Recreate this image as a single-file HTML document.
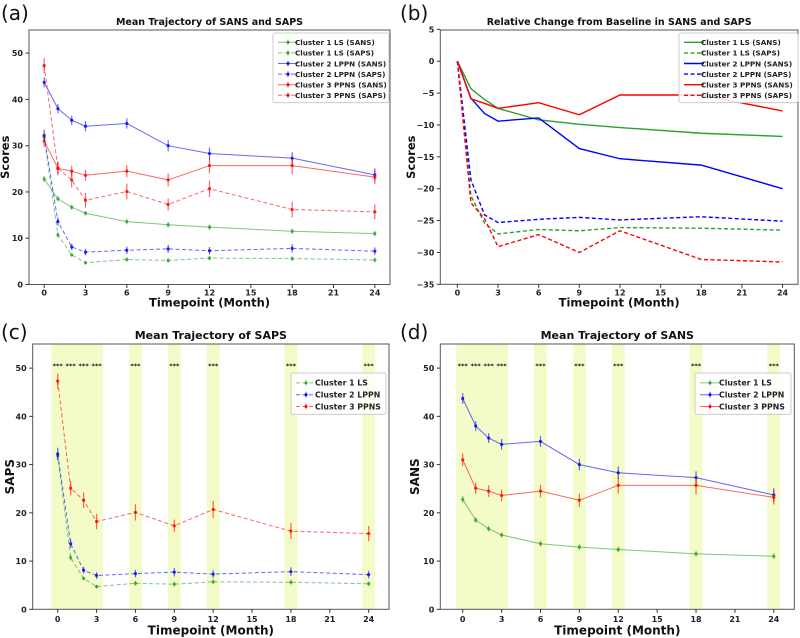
<!DOCTYPE html>
<html><head><meta charset="utf-8"><style>
html,body{margin:0;padding:0;background:#fff;}
svg{display:block;font-family:"DejaVu Sans","Liberation Sans",sans-serif;}
</style></head><body>
<svg id="fig" width="800" height="638" viewBox="0 0 800 638"></svg>
<script>
const months = [0,1,2,3,6,9,12,18,24];
const xTicks = [0,3,6,9,12,15,18,21,24];
const sansC1 = [22.8,18.5,16.7,15.4,13.6,12.9,12.4,11.5,11.0];
const sansC2 = [43.7,38.0,35.5,34.2,34.8,30.0,28.3,27.3,23.7];
const sansC3 = [31.0,25.1,24.5,23.6,24.5,22.6,25.7,25.7,23.2];
const sapsC1 = [31.8,10.7,6.4,4.7,5.4,5.2,5.7,5.6,5.3];
const sapsC2 = [32.2,13.6,8.1,7.0,7.4,7.7,7.3,7.8,7.2];
const sapsC3 = [47.3,25.1,22.6,18.2,20.1,17.3,20.7,16.2,15.7];
const sansErrC1 = [0.7,0.6,0.6,0.5,0.6,0.6,0.6,0.6,0.6];
const sansErrC2 = [1.1,1.0,1.0,1.1,1.1,1.2,1.3,1.3,1.4];
const sansErrC3 = [1.3,1.2,1.2,1.2,1.3,1.4,1.7,1.9,1.5];
const sapsErrC1 = [0.9,0.6,0.4,0.4,0.5,0.5,0.5,0.5,0.5];
const sapsErrC2 = [1.3,0.9,0.7,0.7,0.8,0.9,0.8,0.9,0.8];
const sapsErrC3 = [1.6,1.5,1.6,1.6,1.7,1.3,1.8,1.7,1.6];
const relSansC1 = [0,-4.3,-6.0,-7.4,-9.2,-9.9,-10.4,-11.3,-11.8];
const relSansC2 = [0,-5.8,-8.2,-9.4,-8.9,-13.7,-15.3,-16.3,-20.0];
const relSansC3 = [0,-5.9,-6.6,-7.4,-6.5,-8.4,-5.3,-5.3,-7.8];
const relSapsC1 = [0,-21.1,-25.4,-27.1,-26.4,-26.6,-26.1,-26.2,-26.5];
const relSapsC2 = [0,-18.6,-24.1,-25.3,-24.8,-24.5,-24.9,-24.4,-25.1];
const relSapsC3 = [0,-22.2,-24.7,-29.1,-27.2,-30.0,-26.6,-31.1,-31.5];
const yTicksScore = [0,10,20,30,40,50];
const yTicksRel = [5,0,-5,-10,-15,-20,-25,-30,-35];
const bandCenters = [[-0.5,3.5],[5.5,6.5],[8.5,9.5],[11.5,12.5],[17.5,18.5],[23.5,24.5]];
const starPositions = [0,1,2,3,6,9,12,18,24];

const NS="http://www.w3.org/2000/svg";
const svg=document.getElementById('fig');
function mk(tag,attrs,parent){const e=document.createElementNS(NS,tag);for(const k in attrs)e.setAttribute(k,attrs[k]);(parent||svg).appendChild(e);return e;}
const G='#2ca02c',B='#0000ff',R='#ff0000';

function panel(p){
  const g=mk('g',{});
  
  
  const sx=v=>p.x0+(v-p.xmin)/(p.xmax-p.xmin)*(p.x1-p.x0);
  const sy=v=>p.y1-(v-p.ymin)/(p.ymax-p.ymin)*(p.y1-p.y0);
  if(p.bands){
    p.bands.forEach(b=>{const r=mk('rect',{x:sx(b[0]),y:p.y0,width:sx(b[1])-sx(b[0]),height:p.y1-p.y0,fill:'#f3fbc8'},g);
      });
    starPositions.forEach(m=>{const t=mk('text',{x:sx(m),y:sy(50.0),'font-size':6.5,'font-weight':'bold','text-anchor':'middle',fill:'#111'},g);t.textContent='***';
      });
  }
  const frame=mk('rect',{x:p.x0,y:p.y0,width:p.x1-p.x0,height:p.y1-p.y0,fill:'none',stroke:'#555','stroke-width':1},g);
  
  xTicks.forEach(t=>{mk('line',{x1:sx(t),x2:sx(t),y1:p.y1,y2:p.y1+3.5,stroke:'#333'},g);
    const tx=mk('text',{x:sx(t),y:p.y1+p.xtOff,'font-size':8,'font-weight':'bold','text-anchor':'middle',fill:'#222'},g);tx.textContent=t;
    });
  p.yticks.forEach(t=>{const yy=sy(t);if(yy<p.y0-1)return;mk('line',{x1:p.x0-3.5,x2:p.x0,y1:yy,y2:yy,stroke:'#333'},g);
    const tx=mk('text',{x:p.x0-6,y:yy+3,'font-size':8,'font-weight':'bold','text-anchor':'end',fill:'#222'},g);tx.textContent=t===0?'0':(t<0?'\u2212'+(-t):t);
    });
  const xl=mk('text',{x:(p.x0+p.x1)/2,y:p.y1+p.xlOff,'font-size':p.axFs,'font-weight':'bold','text-anchor':'middle',fill:'#111'},g);xl.textContent='Timepoint (Month)';
  
  const yx=p.ylX,yc=(p.y0+p.y1)/2;
  const yl=mk('text',{x:yx,y:yc,'font-size':p.axFs,'font-weight':'bold','text-anchor':'middle',fill:'#111',transform:`rotate(-90 ${yx} ${yc})`},g);yl.textContent=p.ylabel;
  
  const ti=mk('text',{x:(p.x0+p.x1)/2,y:p.y0-5,'font-size':p.titleSize,'font-weight':'bold','text-anchor':'middle',fill:'#111'},g);ti.textContent=p.title;
  
  const lab=mk('text',{x:p.labX,y:p.labY,'font-size':20,fill:'#111'},g);lab.textContent=p.label;
  
  p.series.forEach(s=>{
    const sg=mk('g',{},g);
    
    
    const pts=months.map((m,i)=>sx(m)+','+sy(s.v[i])).join(' ');
    mk('polyline',{points:pts,fill:'none',stroke:s.c,'stroke-width':s.err?1:1.4,'stroke-opacity':s.err?0.6:1,'stroke-dasharray':s.dash?'4,2.5':'none'},sg);
    if(s.err){months.forEach((m,i)=>{
      mk('line',{x1:sx(m),x2:sx(m),y1:sy(s.v[i]-s.err[i]),y2:sy(s.v[i]+s.err[i]),stroke:s.c,'stroke-opacity':0.6,'stroke-width':1.2},sg);
      mk('circle',{cx:sx(m),cy:sy(s.v[i]),r:1.6,fill:s.c,'fill-opacity':0.8},sg);});}
  });
  const L=p.legend;
  const lg=mk('g',{},g);
  
  
  mk('rect',{x:L.x,y:L.y,width:L.w,height:L.rowH*p.series.length+6,fill:'#fff','fill-opacity':0.85,stroke:'#ccc',rx:2},lg);
  p.series.forEach((s,i)=>{
    const yy=L.y+4+L.rowH*(i+0.5);
    const e=mk('g',{},lg);
    
    
    mk('line',{x1:L.x+5,x2:L.x+25,y1:yy,y2:yy,stroke:s.c,'stroke-width':s.err?1:1.4,'stroke-opacity':s.err?0.6:1,'stroke-dasharray':s.dash?'4,2.5':'none'},e);
    if(s.err){mk('line',{x1:L.x+15,x2:L.x+15,y1:yy-3,y2:yy+3,stroke:s.c,'stroke-opacity':0.6},e);mk('circle',{cx:L.x+15,cy:yy,r:1.5,fill:s.c},e);}
    const t=mk('text',{x:L.x+L.tx,y:yy+2.8,'font-size':L.fs,'font-weight':'bold',fill:'#222'},e);t.textContent=s.n;
  });
}

panel({name:'panel-a-mean-trajectory',x0:29,x1:390,y0:30,y1:284.5,xmin:-1.1,xmax:25.1,ymin:0,ymax:55,yticks:yTicksScore,ylabel:'Scores',
 title:'Mean Trajectory of SANS and SAPS',titleSize:9.5,label:'(a)',labX:1,labY:20,ylX:9,axFs:11.5,xlOff:22,xtOff:11,
 legend:{x:273,y:33,w:116,rowH:10.6,tx:22,fs:7.2},
 series:[{id:'c1-sans',n:'Cluster 1 LS (SANS)',v:sansC1,err:sansErrC1,c:G},{id:'c1-saps',n:'Cluster 1 LS (SAPS)',v:sapsC1,err:sapsErrC1,c:G,dash:1},
 {id:'c2-sans',n:'Cluster 2 LPPN (SANS)',v:sansC2,err:sansErrC2,c:B},{id:'c2-saps',n:'Cluster 2 LPPN (SAPS)',v:sapsC2,err:sapsErrC2,c:B,dash:1},
 {id:'c3-sans',n:'Cluster 3 PPNS (SANS)',v:sansC3,err:sansErrC3,c:R},{id:'c3-saps',n:'Cluster 3 PPNS (SAPS)',v:sapsC3,err:sapsErrC3,c:R,dash:1}]});

panel({name:'panel-b-relative-change',x0:440.3,x1:798,y0:30,y1:284.3,xmin:-1.26,xmax:25.14,ymin:-35,ymax:4.9,yticks:yTicksRel,ylabel:'Scores',
 title:'Relative Change from Baseline in SANS and SAPS',titleSize:9.5,label:'(b)',labX:400,labY:20,ylX:415,axFs:11.5,xlOff:22,xtOff:11,
 legend:{x:679,y:33,w:119,rowH:10.6,tx:22,fs:7.2},
 series:[{id:'c1-sans-rel',n:'Cluster 1 LS (SANS)',v:relSansC1,c:G},{id:'c1-saps-rel',n:'Cluster 1 LS (SAPS)',v:relSapsC1,c:G,dash:1},
 {id:'c2-sans-rel',n:'Cluster 2 LPPN (SANS)',v:relSansC2,c:B},{id:'c2-saps-rel',n:'Cluster 2 LPPN (SAPS)',v:relSapsC2,c:B,dash:1},
 {id:'c3-sans-rel',n:'Cluster 3 PPNS (SANS)',v:relSansC3,c:R},{id:'c3-saps-rel',n:'Cluster 3 PPNS (SAPS)',v:relSapsC3,c:R,dash:1}]});

panel({name:'panel-c-saps',x0:32.7,x1:389,y0:344,y1:609.3,xmin:-1.93,xmax:25.57,ymin:0,ymax:55,yticks:yTicksScore,ylabel:'SAPS',
 title:'Mean Trajectory of SAPS',titleSize:11,label:'(c)',labX:1,labY:339,bands:bandCenters,ylX:14,axFs:12,xlOff:25,xtOff:12.5,
 legend:{x:291,y:373,w:95,rowH:11.8,tx:24,fs:7.8},
 series:[{id:'c1-saps-c',n:'Cluster 1 LS',v:sapsC1,err:sapsErrC1,c:G,dash:1},{id:'c2-saps-c',n:'Cluster 2 LPPN',v:sapsC2,err:sapsErrC2,c:B,dash:1},{id:'c3-saps-c',n:'Cluster 3 PPNS',v:sapsC3,err:sapsErrC3,c:R,dash:1}]});

panel({name:'panel-d-sans',x0:440.3,x1:794.3,y0:344,y1:609.3,xmin:-1.73,xmax:25.58,ymin:0,ymax:55,yticks:yTicksScore,ylabel:'SANS',
 title:'Mean Trajectory of SANS',titleSize:11,label:'(d)',labX:400,labY:339,bands:bandCenters,ylX:419,axFs:12,xlOff:25,xtOff:12.5,
 legend:{x:695,y:373,w:96,rowH:11.8,tx:24,fs:7.8},
 series:[{id:'c1-sans-d',n:'Cluster 1 LS',v:sansC1,err:sansErrC1,c:G},{id:'c2-sans-d',n:'Cluster 2 LPPN',v:sansC2,err:sansErrC2,c:B},{id:'c3-sans-d',n:'Cluster 3 PPNS',v:sansC3,err:sansErrC3,c:R}]});
</script>
</body></html>
